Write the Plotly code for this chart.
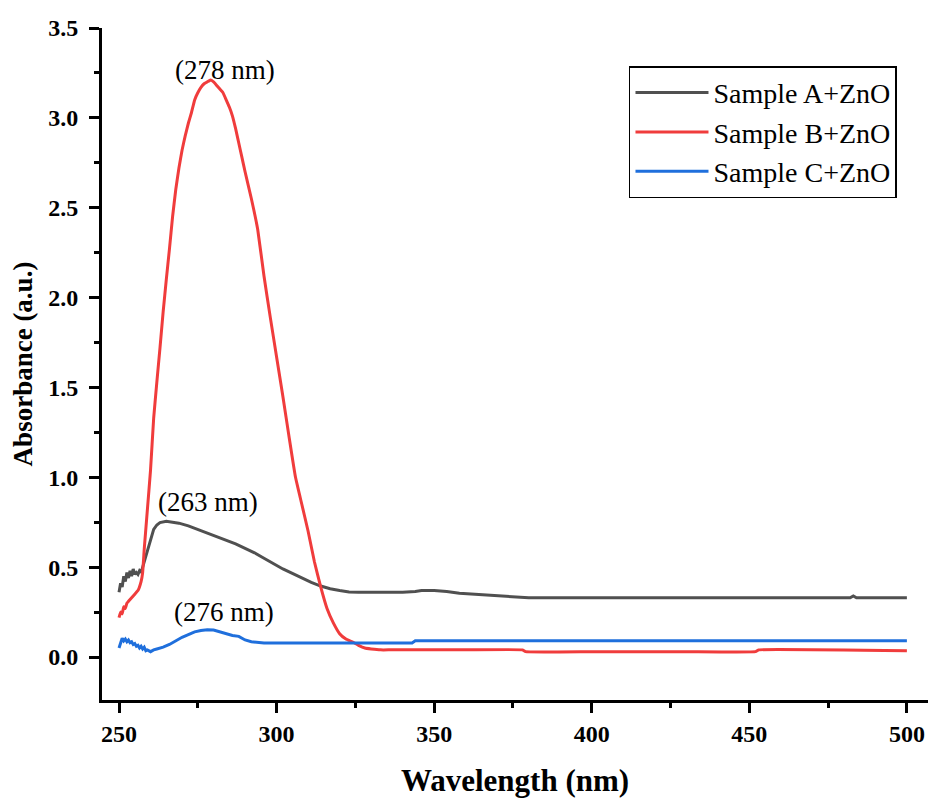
import plotly.graph_objects as go

# --- data ---
wl_a = [250, 250.5, 251, 251.5, 252, 252.5, 253, 253.5, 254, 254.5,
        255, 255.5, 256, 256.5, 257, 257.5, 258, 259, 260, 261,
        262, 263, 265, 267, 269, 272, 275, 278, 281, 284,
        287, 290, 293, 296, 299, 302, 305, 308, 311, 314,
        317, 320, 323, 326, 330, 335, 340, 344, 346, 350,
        354, 358, 362, 366, 370, 376, 380, 400, 430, 460,
        482, 483, 484, 500]
abs_a = [0.36, 0.41, 0.39, 0.45, 0.42, 0.47, 0.44, 0.48, 0.45, 0.49,
         0.46, 0.47, 0.46, 0.48, 0.47, 0.50, 0.53, 0.60, 0.66, 0.71,
         0.735, 0.748, 0.755, 0.752, 0.745, 0.73, 0.71, 0.69, 0.67, 0.65,
         0.63, 0.605, 0.58, 0.55, 0.52, 0.49, 0.465, 0.44, 0.415, 0.395,
         0.38, 0.37, 0.362, 0.36, 0.36, 0.36, 0.36, 0.365, 0.37, 0.37,
         0.365, 0.355, 0.35, 0.345, 0.34, 0.335, 0.33, 0.33, 0.33, 0.33,
         0.33, 0.34, 0.33, 0.33]

wl_b = [250, 250.5, 251, 251.5, 252, 252.5, 253, 254, 255, 256,
        257, 257.5, 258, 259, 260, 261, 262, 263, 264, 265,
        266, 267, 268, 269, 270, 271, 272, 273, 274, 275,
        276, 277, 278, 279, 280, 281, 282, 283, 284, 285,
        286, 287, 288, 289, 290, 292, 294, 296, 298, 300,
        302, 304, 306, 308, 310, 312, 314, 316, 318, 320,
        322, 324, 326, 328, 330, 333, 336, 340, 360, 378,
        379, 400, 430, 452, 453, 500]
abs_b = [0.22, 0.25, 0.24, 0.28, 0.27, 0.30, 0.31, 0.33, 0.35, 0.37,
         0.42, 0.47, 0.60, 0.82, 1.04, 1.33, 1.53, 1.72, 1.92, 2.10,
         2.27, 2.45, 2.60, 2.72, 2.82, 2.90, 2.97, 3.03, 3.10, 3.14,
         3.17, 3.19, 3.20, 3.21, 3.20, 3.18, 3.16, 3.14, 3.10, 3.06,
         3.01, 2.94, 2.86, 2.78, 2.70, 2.55, 2.38, 2.12, 1.89, 1.67,
         1.45, 1.22, 1.00, 0.85, 0.70, 0.53, 0.39, 0.27, 0.19, 0.13,
         0.10, 0.085, 0.065, 0.05, 0.045, 0.04, 0.04, 0.04, 0.04, 0.04,
         0.03, 0.03, 0.03, 0.03, 0.04, 0.035]

wl_c = [250, 250.5, 251, 251.5, 252, 252.5, 253, 253.5, 254, 254.5,
        255, 255.5, 256, 256.5, 257, 257.5, 258, 258.5, 259, 260,
        261, 262, 263, 264, 266, 268, 270, 272, 274, 276,
        278, 280, 282, 284, 286, 288, 290, 292, 294, 296,
        300, 310, 320, 330, 343, 344, 370, 400, 500]
abs_c = [0.05, 0.08, 0.105, 0.09, 0.10, 0.085, 0.095, 0.08, 0.085, 0.07,
         0.075, 0.06, 0.065, 0.05, 0.06, 0.045, 0.055, 0.035, 0.04, 0.03,
         0.04, 0.045, 0.05, 0.055, 0.07, 0.09, 0.11, 0.125, 0.14, 0.148,
         0.152, 0.15, 0.14, 0.13, 0.12, 0.115, 0.095, 0.085, 0.08, 0.078,
         0.078, 0.078, 0.078, 0.078, 0.078, 0.09, 0.09, 0.09, 0.09]

names = ["Sample A+ZnO", "Sample B+ZnO", "Sample C+ZnO"]
colors = ["#505050", "#f03c3c", "#1f6fdc"]

# peak labels: text, x, y
peak_text = ["(278 nm)", "(263 nm)", "(276 nm)"]
peak_x = [283.6, 278.1, 283.3]
peak_y = [3.265, 0.864, 0.252]

SERIF = "Liberation Serif"

fig = go.Figure()
for wl, ab, name, col in zip([wl_a, wl_b, wl_c], [abs_a, abs_b, abs_c], names, colors):
    shape = "spline" if name.startswith("Sample B") else "linear"
    fig.add_trace(go.Scatter(x=wl, y=ab, mode="lines", name=name,
                             line=dict(color=col, width=3, shape=shape, smoothing=0.3)))

for t, x, y in zip(peak_text, peak_x, peak_y):
    fig.add_annotation(x=x, y=y, text=t, showarrow=False,
                       font=dict(family=SERIF, size=27, color="black"))

axis_common = dict(
    showgrid=False, zeroline=False, showline=True, linecolor="black",
    linewidth=3, ticks="outside", ticklen=10, tickwidth=3, tickcolor="black",
    automargin=False,
    tickfont=dict(family=SERIF, size=24, color="black", weight="bold"),
    minor=dict(ticks="outside", ticklen=5, tickwidth=3, tickcolor="black"),
)

fig.update_xaxes(range=[244.6, 506.7], dtick=50, tick0=250,
                 title=dict(text="Wavelength (nm)", standoff=35,
                            font=dict(family=SERIF, size=31, color="black", weight="bold")),
                 **axis_common)
fig.update_xaxes(minor_dtick=25)
fig.update_yaxes(range=[-0.239, 3.5], dtick=0.5, tick0=0, tickformat=".1f",
                 ticklabelstandoff=6,
                 title=dict(text="Absorbance (a.u.)", standoff=8,
                            font=dict(family=SERIF, size=27, color="black", weight="bold")),
                 **axis_common)
fig.update_yaxes(minor_dtick=0.25)

fig.update_layout(
    width=928, height=798,
    margin=dict(l=102, r=0, t=28, b=98, autoexpand=False),
    plot_bgcolor="white", paper_bgcolor="white",
    legend=dict(x=0.638, y=0.943, xanchor="left", yanchor="top",
                bordercolor="black", borderwidth=1.5, bgcolor="white",
                font=dict(family=SERIF, size=28, color="black"),
                itemwidth=73, tracegroupgap=0),
)

# drop the default 8px page margin so the figure sits flush in the window
fig.write_html("out.html", config={"displayModeBar": False},
               post_script="document.body.style.margin='0';")
